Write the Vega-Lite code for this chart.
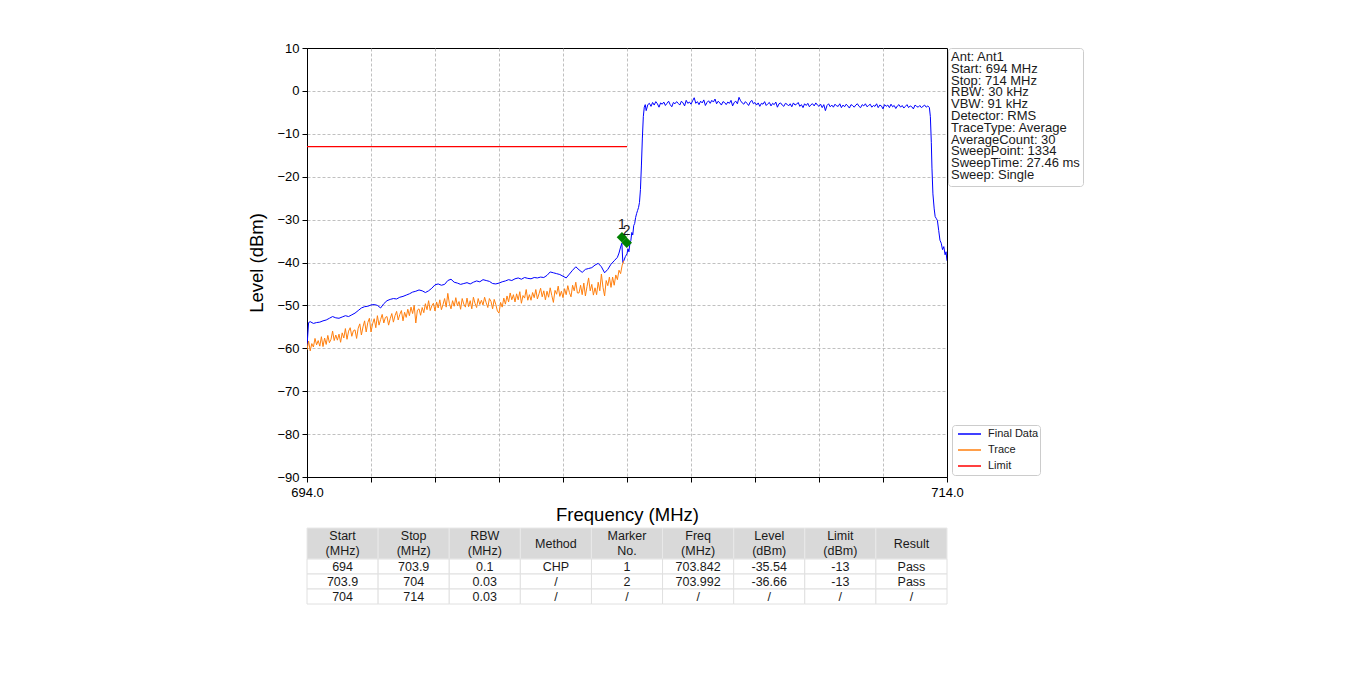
{
  "$schema": "https://vega.github.io/schema/vega-lite/v6.json",
  "padding": {"left": 247, "top": 41, "right": 5, "bottom": 5},
  "background": "white",
  "config": {
    "font": "Liberation Sans",
    "view": {"stroke": "black", "strokeWidth": 1},
    "axis": {
      "domainColor": "black", "tickColor": "black", "labelColor": "black", "titleColor": "black",
      "labelFont": "Liberation Sans", "titleFont": "Liberation Sans",
      "labelFontSize": 13, "titleFontSize": 18.5, "titleFontWeight": "normal",
      "tickSize": 5, "gridColor": "#b0b0b0", "gridDash": [3, 2], "gridWidth": 0.8
    }
  },
  "datasets": {
    "blue": [
      {"f":694.0,"v":-59.5},{"f":694.05,"v":-54.0},{"f":694.1,"v":-53.8},{"f":694.2,"v":-54.2},{"f":694.3,"v":-54.0},{"f":694.4,"v":-53.9},{"f":694.5,"v":-53.6},{"f":694.6,"v":-53.4},{"f":694.7,"v":-53.0},{"f":694.8,"v":-52.6},{"f":694.9,"v":-52.9},
      {"f":695.0,"v":-53.0},{"f":695.1,"v":-52.7},{"f":695.2,"v":-52.4},{"f":695.3,"v":-52.6},{"f":695.4,"v":-52.2},{"f":695.5,"v":-51.8},{"f":695.6,"v":-51.2},{"f":695.7,"v":-50.6},{"f":695.8,"v":-50.3},{"f":695.9,"v":-50.2},
      {"f":696.0,"v":-49.9},{"f":696.1,"v":-49.8},{"f":696.2,"v":-50.0},{"f":696.3,"v":-50.6},{"f":696.4,"v":-49.6},{"f":696.5,"v":-48.9},{"f":696.6,"v":-48.6},{"f":696.7,"v":-48.4},{"f":696.8,"v":-48.5},{"f":696.9,"v":-48.1},
      {"f":697.0,"v":-47.9},{"f":697.1,"v":-47.6},{"f":697.2,"v":-47.3},{"f":697.3,"v":-46.9},{"f":697.4,"v":-46.7},{"f":697.5,"v":-46.4},{"f":697.6,"v":-46.6},{"f":697.7,"v":-47.0},{"f":697.8,"v":-46.6},{"f":697.9,"v":-46.0},
      {"f":698.0,"v":-45.2},{"f":698.1,"v":-45.0},{"f":698.2,"v":-45.3},{"f":698.3,"v":-45.1},{"f":698.4,"v":-44.2},{"f":698.5,"v":-43.9},{"f":698.6,"v":-44.6},{"f":698.7,"v":-44.8},{"f":698.8,"v":-45.1},{"f":698.9,"v":-44.9},
      {"f":699.0,"v":-44.7},{"f":699.1,"v":-45.0},{"f":699.2,"v":-44.6},{"f":699.3,"v":-44.3},{"f":699.4,"v":-44.5},{"f":699.5,"v":-44.0},{"f":699.6,"v":-44.2},{"f":699.7,"v":-44.4},{"f":699.8,"v":-44.9},{"f":699.9,"v":-45.0},
      {"f":700.0,"v":-44.8},{"f":700.1,"v":-44.5},{"f":700.2,"v":-44.3},{"f":700.3,"v":-44.0},{"f":700.4,"v":-44.2},{"f":700.5,"v":-43.8},{"f":700.6,"v":-43.6},{"f":700.7,"v":-43.9},{"f":700.8,"v":-43.5},{"f":700.9,"v":-43.7},
      {"f":701.0,"v":-43.8},{"f":701.1,"v":-43.5},{"f":701.2,"v":-43.6},{"f":701.3,"v":-43.4},{"f":701.4,"v":-43.5},{"f":701.5,"v":-43.0},{"f":701.6,"v":-42.2},{"f":701.7,"v":-42.4},{"f":701.8,"v":-42.6},{"f":701.9,"v":-42.8},
      {"f":702.0,"v":-43.2},{"f":702.1,"v":-43.6},{"f":702.2,"v":-42.7},{"f":702.3,"v":-41.8},{"f":702.4,"v":-41.0},{"f":702.5,"v":-41.7},{"f":702.6,"v":-42.3},{"f":702.7,"v":-41.6},{"f":702.8,"v":-41.4},{"f":702.9,"v":-41.2},
      {"f":703.0,"v":-40.6},{"f":703.1,"v":-40.2},{"f":703.2,"v":-41.0},{"f":703.3,"v":-42.4},{"f":703.4,"v":-41.6},{"f":703.5,"v":-40.4},{"f":703.6,"v":-39.6},{"f":703.7,"v":-38.8},{"f":703.75,"v":-37.8},{"f":703.8,"v":-36.4},{"f":703.84,"v":-35.5},{"f":703.87,"v":-40.0},{"f":703.9,"v":-39.6},{"f":703.95,"v":-38.6},
      {"f":704.0,"v":-38.0},{"f":704.03,"v":-36.8},{"f":704.06,"v":-37.5},{"f":704.09,"v":-35.6},{"f":704.12,"v":-34.9},{"f":704.15,"v":-33.0},{"f":704.18,"v":-33.6},{"f":704.21,"v":-31.4},{"f":704.24,"v":-30.9},{"f":704.27,"v":-29.5},{"f":704.3,"v":-28.6},{"f":704.33,"v":-27.9},{"f":704.36,"v":-27.2},{"f":704.39,"v":-26.0},{"f":704.42,"v":-23.0},{"f":704.45,"v":-17.5},{"f":704.48,"v":-11.0},{"f":704.51,"v":-6.0},{"f":704.54,"v":-3.8},{"f":704.57,"v":-3.2},
      {"f":704.6,"v":-4.6},{"f":704.65,"v":-3.2},{"f":704.7,"v":-2.9},{"f":704.75,"v":-3.6},{"f":704.8,"v":-2.7},{"f":704.85,"v":-3.3},{"f":704.9,"v":-2.5},{"f":704.95,"v":-3.0},{"f":705.0,"v":-3.8},{"f":705.05,"v":-2.8},
      {"f":705.1,"v":-3.1},{"f":705.15,"v":-2.6},{"f":705.2,"v":-3.4},{"f":705.25,"v":-2.9},{"f":705.3,"v":-2.4},{"f":705.35,"v":-3.2},{"f":705.4,"v":-3.7},{"f":705.45,"v":-2.7},{"f":705.5,"v":-3.0},{"f":705.55,"v":-2.5},
      {"f":705.6,"v":-2.9},{"f":705.65,"v":-3.3},{"f":705.7,"v":-2.4},{"f":705.75,"v":-2.8},{"f":705.8,"v":-3.5},{"f":705.85,"v":-2.2},{"f":705.9,"v":-2.9},{"f":705.95,"v":-2.6},{"f":706.0,"v":-3.1},{"f":706.05,"v":-2.3},
      {"f":706.1,"v":-1.6},{"f":706.15,"v":-2.9},{"f":706.2,"v":-2.5},{"f":706.25,"v":-3.2},{"f":706.3,"v":-2.4},{"f":706.35,"v":-2.8},{"f":706.4,"v":-2.1},{"f":706.45,"v":-3.4},{"f":706.5,"v":-2.7},{"f":706.55,"v":-2.3},
      {"f":706.6,"v":-2.9},{"f":706.65,"v":-2.2},{"f":706.7,"v":-2.6},{"f":706.75,"v":-1.9},{"f":706.8,"v":-3.0},{"f":706.85,"v":-2.4},{"f":706.9,"v":-2.8},{"f":706.95,"v":-3.3},{"f":707.0,"v":-2.5},{"f":707.05,"v":-2.7},
      {"f":707.1,"v":-3.2},{"f":707.15,"v":-2.6},{"f":707.2,"v":-2.9},{"f":707.25,"v":-2.2},{"f":707.3,"v":-3.5},{"f":707.35,"v":-2.7},{"f":707.4,"v":-2.4},{"f":707.45,"v":-3.0},{"f":707.5,"v":-1.5},{"f":707.55,"v":-2.3},
      {"f":707.6,"v":-2.8},{"f":707.65,"v":-3.1},{"f":707.7,"v":-2.5},{"f":707.75,"v":-2.9},{"f":707.8,"v":-3.4},{"f":707.85,"v":-2.6},{"f":707.9,"v":-2.2},{"f":707.95,"v":-3.0},{"f":708.0,"v":-2.7},{"f":708.05,"v":-3.3},
      {"f":708.1,"v":-2.8},{"f":708.15,"v":-3.6},{"f":708.2,"v":-2.9},{"f":708.25,"v":-3.1},{"f":708.3,"v":-2.5},{"f":708.35,"v":-3.4},{"f":708.4,"v":-3.0},{"f":708.45,"v":-2.7},{"f":708.5,"v":-3.5},{"f":708.55,"v":-2.9},
      {"f":708.6,"v":-3.2},{"f":708.65,"v":-2.6},{"f":708.7,"v":-3.8},{"f":708.75,"v":-3.0},{"f":708.8,"v":-2.8},{"f":708.85,"v":-3.3},{"f":708.9,"v":-3.6},{"f":708.95,"v":-2.9},{"f":709.0,"v":-3.1},{"f":709.05,"v":-3.5},
      {"f":709.1,"v":-3.0},{"f":709.15,"v":-3.7},{"f":709.2,"v":-2.8},{"f":709.25,"v":-3.3},{"f":709.3,"v":-3.1},{"f":709.35,"v":-2.7},{"f":709.4,"v":-3.6},{"f":709.45,"v":-3.2},{"f":709.5,"v":-3.9},{"f":709.55,"v":-3.0},
      {"f":709.6,"v":-3.4},{"f":709.65,"v":-2.9},{"f":709.7,"v":-3.7},{"f":709.75,"v":-3.2},{"f":709.8,"v":-3.0},{"f":709.85,"v":-3.5},{"f":709.9,"v":-2.8},{"f":709.95,"v":-3.3},{"f":710.0,"v":-3.6},{"f":710.05,"v":-3.1},
      {"f":710.1,"v":-3.9},{"f":710.15,"v":-3.2},{"f":710.2,"v":-4.6},{"f":710.25,"v":-3.4},{"f":710.3,"v":-3.0},{"f":710.35,"v":-3.7},{"f":710.4,"v":-3.3},{"f":710.45,"v":-3.8},{"f":710.5,"v":-3.1},{"f":710.55,"v":-3.5},
      {"f":710.6,"v":-3.6},{"f":710.65,"v":-3.0},{"f":710.7,"v":-3.9},{"f":710.75,"v":-3.3},{"f":710.8,"v":-3.7},{"f":710.85,"v":-3.1},{"f":710.9,"v":-3.5},{"f":710.95,"v":-4.0},{"f":711.0,"v":-3.2},{"f":711.05,"v":-3.4},
      {"f":711.1,"v":-3.8},{"f":711.15,"v":-3.3},{"f":711.2,"v":-3.0},{"f":711.25,"v":-3.6},{"f":711.3,"v":-3.9},{"f":711.35,"v":-3.2},{"f":711.4,"v":-3.5},{"f":711.45,"v":-3.0},{"f":711.5,"v":-3.7},{"f":711.55,"v":-3.4},
      {"f":711.6,"v":-3.1},{"f":711.65,"v":-3.8},{"f":711.7,"v":-3.4},{"f":711.75,"v":-3.6},{"f":711.8,"v":-3.0},{"f":711.85,"v":-3.9},{"f":711.9,"v":-3.3},{"f":711.95,"v":-3.5},{"f":712.0,"v":-4.2},{"f":712.05,"v":-3.2},
      {"f":712.1,"v":-3.6},{"f":712.15,"v":-3.3},{"f":712.2,"v":-3.9},{"f":712.25,"v":-3.1},{"f":712.3,"v":-3.7},{"f":712.35,"v":-3.4},{"f":712.4,"v":-4.1},{"f":712.45,"v":-3.5},{"f":712.5,"v":-3.2},{"f":712.55,"v":-3.8},
      {"f":712.6,"v":-3.4},{"f":712.65,"v":-4.0},{"f":712.7,"v":-3.6},{"f":712.75,"v":-3.2},{"f":712.8,"v":-3.9},{"f":712.85,"v":-3.5},{"f":712.9,"v":-3.7},{"f":712.95,"v":-4.2},{"f":713.0,"v":-3.3},{"f":713.05,"v":-3.6},
      {"f":713.1,"v":-3.8},{"f":713.15,"v":-3.4},{"f":713.2,"v":-3.9},{"f":713.25,"v":-3.6},{"f":713.3,"v":-3.3},{"f":713.35,"v":-3.8},{"f":713.4,"v":-3.5},{"f":713.45,"v":-3.9},
      {"f":713.48,"v":-6.0},{"f":713.51,"v":-12.0},{"f":713.53,"v":-18.0},{"f":713.56,"v":-24.0},{"f":713.6,"v":-27.5},{"f":713.63,"v":-29.3},{"f":713.67,"v":-29.8},{"f":713.7,"v":-30.2},{"f":713.74,"v":-32.5},{"f":713.78,"v":-34.8},{"f":713.82,"v":-35.5},{"f":713.86,"v":-37.0},{"f":713.9,"v":-36.3},{"f":713.94,"v":-38.2},{"f":713.97,"v":-37.5},{"f":714.0,"v":-39.6}
    ],
    "orange": [
      {"f":694.0,"v":-60.4},{"f":694.05,"v":-58.3},{"f":694.1,"v":-60.6},{"f":694.15,"v":-58.9},{"f":694.2,"v":-59.7},{"f":694.25,"v":-57.7},{"f":694.3,"v":-59.2},{"f":694.35,"v":-58.2},{"f":694.4,"v":-59.5},{"f":694.45,"v":-57.3},
      {"f":694.5,"v":-59.6},{"f":694.55,"v":-57.6},{"f":694.6,"v":-59.1},{"f":694.65,"v":-57.0},{"f":694.7,"v":-58.7},{"f":694.75,"v":-57.9},{"f":694.8,"v":-56.0},{"f":694.85,"v":-58.2},{"f":694.9,"v":-56.9},{"f":694.95,"v":-58.1},
      {"f":695.0,"v":-56.7},{"f":695.05,"v":-58.6},{"f":695.1,"v":-56.4},{"f":695.15,"v":-57.6},{"f":695.2,"v":-55.4},{"f":695.25,"v":-57.9},{"f":695.3,"v":-56.0},{"f":695.35,"v":-55.2},{"f":695.4,"v":-57.2},{"f":695.45,"v":-55.9},
      {"f":695.5,"v":-55.7},{"f":695.55,"v":-57.7},{"f":695.6,"v":-55.3},{"f":695.65,"v":-54.3},{"f":695.7,"v":-56.9},{"f":695.75,"v":-55.0},{"f":695.8,"v":-53.6},{"f":695.85,"v":-56.2},{"f":695.9,"v":-54.0},{"f":695.95,"v":-53.0},
      {"f":696.0,"v":-56.2},{"f":696.05,"v":-54.3},{"f":696.1,"v":-53.1},{"f":696.15,"v":-55.2},{"f":696.2,"v":-52.4},{"f":696.25,"v":-54.6},{"f":696.3,"v":-53.3},{"f":696.35,"v":-52.1},{"f":696.4,"v":-54.1},{"f":696.45,"v":-52.8},
      {"f":696.5,"v":-52.6},{"f":696.55,"v":-54.6},{"f":696.6,"v":-53.1},{"f":696.65,"v":-51.9},{"f":696.7,"v":-53.9},{"f":696.75,"v":-52.4},{"f":696.8,"v":-51.4},{"f":696.85,"v":-53.4},{"f":696.9,"v":-52.1},{"f":696.95,"v":-51.2},
      {"f":697.0,"v":-53.6},{"f":697.05,"v":-51.6},{"f":697.1,"v":-52.8},{"f":697.15,"v":-50.9},{"f":697.2,"v":-52.4},{"f":697.25,"v":-50.4},{"f":697.3,"v":-51.9},{"f":697.35,"v":-50.0},{"f":697.4,"v":-54.1},{"f":697.45,"v":-51.1},
      {"f":697.5,"v":-50.8},{"f":697.55,"v":-52.3},{"f":697.6,"v":-50.5},{"f":697.65,"v":-51.7},{"f":697.7,"v":-49.6},{"f":697.75,"v":-51.0},{"f":697.8,"v":-48.9},{"f":697.85,"v":-51.2},{"f":697.9,"v":-50.1},{"f":697.95,"v":-49.5},
      {"f":698.0,"v":-51.3},{"f":698.05,"v":-49.2},{"f":698.1,"v":-50.6},{"f":698.15,"v":-48.7},{"f":698.2,"v":-51.0},{"f":698.25,"v":-49.8},{"f":698.3,"v":-48.4},{"f":698.35,"v":-50.4},{"f":698.4,"v":-47.2},{"f":698.45,"v":-49.6},
      {"f":698.5,"v":-50.8},{"f":698.55,"v":-48.9},{"f":698.6,"v":-50.2},{"f":698.65,"v":-48.2},{"f":698.7,"v":-50.1},{"f":698.75,"v":-49.1},{"f":698.8,"v":-50.9},{"f":698.85,"v":-48.4},{"f":698.9,"v":-49.7},{"f":698.95,"v":-50.4},
      {"f":699.0,"v":-48.3},{"f":699.05,"v":-50.3},{"f":699.1,"v":-48.9},{"f":699.15,"v":-50.8},{"f":699.2,"v":-48.1},{"f":699.25,"v":-49.5},{"f":699.3,"v":-50.5},{"f":699.35,"v":-48.4},{"f":699.4,"v":-49.8},{"f":699.45,"v":-48.8},
      {"f":699.5,"v":-49.9},{"f":699.55,"v":-48.1},{"f":699.6,"v":-49.4},{"f":699.65,"v":-50.5},{"f":699.7,"v":-48.4},{"f":699.75,"v":-49.1},{"f":699.8,"v":-50.8},{"f":699.85,"v":-48.6},{"f":699.9,"v":-49.8},{"f":699.95,"v":-51.3},
      {"f":700.0,"v":-51.8},{"f":700.05,"v":-49.3},{"f":700.1,"v":-50.4},{"f":700.15,"v":-48.3},{"f":700.2,"v":-49.7},{"f":700.25,"v":-47.8},{"f":700.3,"v":-49.2},{"f":700.35,"v":-47.1},{"f":700.4,"v":-48.7},{"f":700.45,"v":-47.5},
      {"f":700.5,"v":-49.2},{"f":700.55,"v":-47.3},{"f":700.6,"v":-48.7},{"f":700.65,"v":-46.8},{"f":700.7,"v":-49.5},{"f":700.75,"v":-47.7},{"f":700.8,"v":-48.3},{"f":700.85,"v":-46.3},{"f":700.9,"v":-48.8},{"f":700.95,"v":-47.5},
      {"f":701.0,"v":-48.8},{"f":701.05,"v":-47.0},{"f":701.1,"v":-48.2},{"f":701.15,"v":-46.3},{"f":701.2,"v":-48.5},{"f":701.25,"v":-47.3},{"f":701.3,"v":-46.0},{"f":701.35,"v":-48.0},{"f":701.4,"v":-46.6},{"f":701.45,"v":-48.7},
      {"f":701.5,"v":-46.7},{"f":701.55,"v":-48.1},{"f":701.6,"v":-45.9},{"f":701.65,"v":-47.7},{"f":701.7,"v":-49.3},{"f":701.75,"v":-46.5},{"f":701.8,"v":-47.4},{"f":701.85,"v":-45.5},{"f":701.9,"v":-47.9},{"f":701.95,"v":-46.7},
      {"f":702.0,"v":-48.2},{"f":702.05,"v":-46.1},{"f":702.1,"v":-47.5},{"f":702.15,"v":-45.4},{"f":702.2,"v":-47.0},{"f":702.25,"v":-48.0},{"f":702.3,"v":-45.3},{"f":702.35,"v":-46.6},{"f":702.4,"v":-44.6},{"f":702.45,"v":-47.1},
      {"f":702.5,"v":-47.1},{"f":702.55,"v":-45.3},{"f":702.6,"v":-47.5},{"f":702.65,"v":-44.8},{"f":702.7,"v":-47.8},{"f":702.75,"v":-45.6},{"f":702.8,"v":-43.6},{"f":702.85,"v":-46.6},{"f":702.9,"v":-45.1},{"f":702.95,"v":-47.6},
      {"f":703.0,"v":-45.9},{"f":703.05,"v":-47.5},{"f":703.1,"v":-44.6},{"f":703.15,"v":-46.6},{"f":703.2,"v":-42.7},{"f":703.25,"v":-45.8},{"f":703.3,"v":-47.8},{"f":703.35,"v":-44.2},{"f":703.4,"v":-45.4},{"f":703.45,"v":-43.4},
      {"f":703.5,"v":-45.8},{"f":703.55,"v":-43.4},{"f":703.6,"v":-45.3},{"f":703.65,"v":-42.9},{"f":703.7,"v":-44.0},{"f":703.75,"v":-41.8},{"f":703.8,"v":-42.6},{"f":703.85,"v":-40.6},{"f":703.9,"v":-39.6}
    ],
    "limit": [{"f":694.0,"v":-13},{"f":704.0,"v":-13}],
    "markers": [{"f":703.842,"v":-34.1,"m":"1"},{"f":703.992,"v":-35.4,"m":"2"}],
    "header": [
      {"col":"Start","h":"Start\n(MHz)"},{"col":"Stop","h":"Stop\n(MHz)"},{"col":"RBW","h":"RBW\n(MHz)"},{"col":"Method","h":"Method"},
      {"col":"Marker","h":"Marker\nNo."},{"col":"Freq","h":"Freq\n(MHz)"},{"col":"Level","h":"Level\n(dBm)"},{"col":"Limit","h":"Limit\n(dBm)"},{"col":"Result","h":"Result"}
    ],
    "body": [
      {"r":"1","col":"Start","v":"694"},{"r":"1","col":"Stop","v":"703.9"},{"r":"1","col":"RBW","v":"0.1"},{"r":"1","col":"Method","v":"CHP"},{"r":"1","col":"Marker","v":"1"},{"r":"1","col":"Freq","v":"703.842"},{"r":"1","col":"Level","v":"-35.54"},{"r":"1","col":"Limit","v":"-13"},{"r":"1","col":"Result","v":"Pass"},
      {"r":"2","col":"Start","v":"703.9"},{"r":"2","col":"Stop","v":"704"},{"r":"2","col":"RBW","v":"0.03"},{"r":"2","col":"Method","v":"/"},{"r":"2","col":"Marker","v":"2"},{"r":"2","col":"Freq","v":"703.992"},{"r":"2","col":"Level","v":"-36.66"},{"r":"2","col":"Limit","v":"-13"},{"r":"2","col":"Result","v":"Pass"},
      {"r":"3","col":"Start","v":"704"},{"r":"3","col":"Stop","v":"714"},{"r":"3","col":"RBW","v":"0.03"},{"r":"3","col":"Method","v":"/"},{"r":"3","col":"Marker","v":"/"},{"r":"3","col":"Freq","v":"/"},{"r":"3","col":"Level","v":"/"},{"r":"3","col":"Limit","v":"/"},{"r":"3","col":"Result","v":"/"}
    ]
  },
  "bounds": "flush",
  "spacing": 51,
  "vconcat": [
    {
      "width": 640,
      "height": 429,
      "layer": [
        {
          "data": {"name": "blue"},
          "mark": {"type": "line", "strokeWidth": 1, "clip": true},
          "encoding": {
            "x": {"field": "f", "type": "quantitative", "scale": {"domain": [694, 714], "nice": false, "zero": false},
              "axis": {"title": "Frequency (MHz)", "values": [694,696,698,700,702,704,706,708,710,712,714], "grid": true,
                "gridOpacity": {"condition": {"test": "datum.value == 694 || datum.value == 714", "value": 0}, "value": 1},
                "labelExpr": "datum.value == 694 || datum.value == 714 ? format(datum.value, '.1f') : ''",
                "labelFlush": false, "labelOverlap": false, "labelPadding": 4, "titlePadding": 6}},
            "y": {"field": "v", "type": "quantitative", "scale": {"domain": [-90, 10], "nice": false, "zero": false},
              "axis": {"title": "Level (dBm)", "values": [-90,-80,-70,-60,-50,-40,-30,-20,-10,0,10], "grid": true,
                "gridOpacity": {"condition": {"test": "datum.value == 10 || datum.value == -90", "value": 0}, "value": 1},
                "labelPadding": 3, "titlePadding": 10}},
            "color": {"datum": "Final Data",
              "scale": {"domain": ["Final Data", "Trace", "Limit"], "range": ["#0000ff", "#ff7f0e", "#ff0000"]},
              "legend": {"title": null, "orient": "none", "legendX": 645, "legendY": 377, "symbolType": "stroke", "symbolSize": 529,
                "symbolStrokeWidth": 1.5, "clipHeight": 16, "rowPadding": 0, "padding": 1, "strokeColor": "#cccccc", "cornerRadius": 3,
                "fillColor": "white", "labelFontSize": 11, "labelOffset": 6, "labelColor": "#1a1a1a", "symbolOffset": 4}}
          }
        },
        {
          "data": {"name": "orange"},
          "mark": {"type": "line", "strokeWidth": 1, "clip": true},
          "encoding": {
            "x": {"field": "f", "type": "quantitative"},
            "y": {"field": "v", "type": "quantitative"},
            "color": {"datum": "Trace"}
          }
        },
        {
          "data": {"name": "limit"},
          "mark": {"type": "line", "strokeWidth": 1.2},
          "encoding": {
            "x": {"field": "f", "type": "quantitative"},
            "y": {"field": "v", "type": "quantitative"},
            "color": {"datum": "Limit"}
          }
        },
        {
          "data": {"name": "limit"},
          "mark": {"type": "point", "opacity": 0},
          "encoding": {
            "shape": {"datum": "info",
              "legend": {"title": ["Ant: Ant1", "Start: 694 MHz", "Stop: 714 MHz", "RBW: 30 kHz", "VBW: 91 kHz", "Detector: RMS", "TraceType: Average", "AverageCount: 30", "SweepPoint: 1334", "SweepTime: 27.46 ms", "Sweep: Single"],
                "orient": "none", "legendX": 641, "legendY": 0, "titleFontSize": 13, "titleLineHeight": 11.8, "titleFontWeight": "normal",
                "titleColor": "#1a1a1a", "titleFont": "Liberation Sans", "titleLimit": 400, "titlePadding": 0, "titleAnchor": "start",
                "symbolSize": 0, "symbolOpacity": 0, "labelOpacity": 0, "labelFontSize": 1, "clipHeight": 1, "rowPadding": 0,
                "padding": 3, "strokeColor": "#cccccc", "cornerRadius": 3, "fillColor": "white"}}
          }
        },
        {
          "data": {"name": "markers"},
          "mark": {"type": "point", "shape": "diamond", "filled": true, "color": "#008000", "size": 110, "opacity": 1},
          "encoding": {
            "x": {"field": "f", "type": "quantitative"},
            "y": {"field": "v", "type": "quantitative"}
          }
        },
        {
          "data": {"name": "markers"},
          "mark": {"type": "text", "fontSize": 14, "color": "#1a1a1a", "dy": -12, "baseline": "middle"},
          "encoding": {
            "x": {"field": "f", "type": "quantitative"},
            "y": {"field": "v", "type": "quantitative"},
            "text": {"field": "m"}
          }
        }
      ]
    },
    {
      "spacing": 0,
      "bounds": "flush",
      "vconcat": [
        {
          "width": 640,
          "height": 31,
          "view": {"stroke": null},
          "data": {"name": "header"},
          "encoding": {
            "x": {"field": "col", "type": "nominal", "sort": null, "axis": null,
              "scale": {"domain": ["Start","Stop","RBW","Method","Marker","Freq","Level","Limit","Result"], "paddingInner": 0, "paddingOuter": 0}}
          },
          "layer": [
            {"mark": {"type": "rect", "fill": "#d9d9d9", "stroke": "#e8e8e8", "strokeWidth": 1}},
            {"transform": [{"filter": "indexof(datum.h, '\\n') >= 0"}],
              "mark": {"type": "text", "lineBreak": "\n", "lineHeight": 15, "fontSize": 12.5, "baseline": "middle", "dy": -7.5, "color": "#1a1a1a"},
              "encoding": {"text": {"field": "h"}}},
            {"transform": [{"filter": "indexof(datum.h, '\\n') < 0"}],
              "mark": {"type": "text", "fontSize": 12.5, "baseline": "middle", "color": "#1a1a1a"},
              "encoding": {"text": {"field": "h"}}}
          ]
        },
        {
          "width": 640,
          "height": 45,
          "view": {"stroke": null},
          "data": {"name": "body"},
          "encoding": {
            "x": {"field": "col", "type": "nominal", "sort": null, "axis": null,
              "scale": {"domain": ["Start","Stop","RBW","Method","Marker","Freq","Level","Limit","Result"], "paddingInner": 0, "paddingOuter": 0}},
            "y": {"field": "r", "type": "ordinal", "axis": null, "scale": {"paddingInner": 0, "paddingOuter": 0}}
          },
          "layer": [
            {"mark": {"type": "rect", "fill": "white", "stroke": "#e0e0e0", "strokeWidth": 1}},
            {"mark": {"type": "text", "fontSize": 12.5, "baseline": "middle", "color": "#1a1a1a"},
              "encoding": {"text": {"field": "v"}}}
          ]
        }
      ]
    }
  ]
}
